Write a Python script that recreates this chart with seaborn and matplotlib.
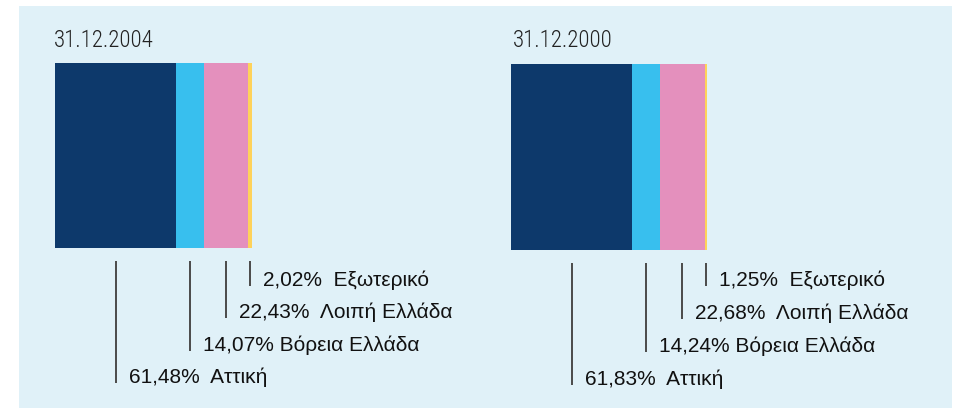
import matplotlib
matplotlib.use("Agg")
import matplotlib.pyplot as plt
import matplotlib.transforms as mtransforms
from matplotlib.patches import Rectangle
import seaborn as sns
import pandas as pd

sns.set_theme(style="white")
plt.rcParams['font.family'] = ['Liberation Sans', 'DejaVu Sans']

# ---- data ----
regions = ["Αττική", "Βόρεια Ελλάδα", "Λοιπή Ελλάδα", "Εξωτερικό"]
values_2004 = [61.48, 14.07, 22.43, 2.02]
values_2000 = [61.83, 14.24, 22.68, 1.25]
labels_2004 = ["61,48%  Αττική", "14,07% Βόρεια Ελλάδα", "22,43%  Λοιπή Ελλάδα", "2,02%  Εξωτερικό"]
labels_2000 = ["61,83%  Αττική", "14,24% Βόρεια Ελλάδα", "22,68%  Λοιπή Ελλάδα", "1,25%  Εξωτερικό"]
titles = ["31.12.2004", "31.12.2000"]
colors = ["#0d396b", "#38bfee", "#e490bd", "#fed25a"]

W, H = 960, 408
fig = plt.figure(figsize=(W / 100, H / 100), dpi=100, facecolor="white")
fig.patches.append(Rectangle((19 / W, 0), (952 - 19) / W, (408 - 6) / H,
                             transform=fig.transFigure, facecolor="#e0f1f8",
                             edgecolor="none", zorder=-10))

panels = [
    dict(values=values_2004, labels=labels_2004, title=titles[0],
         x0=55, x1=252, top=63, bottom=248, line_top=261,
         baselines=[383, 351, 318, 286], title_x=54),
    dict(values=values_2000, labels=labels_2000, title=titles[1],
         x0=511, x1=707, top=64, bottom=250, line_top=263,
         baselines=[385, 352, 319, 286], title_x=513),
]

for p in panels:
    ax = fig.add_axes([p["x0"] / W, 1 - p["bottom"] / H,
                       (p["x1"] - p["x0"]) / W, (p["bottom"] - p["top"]) / H])
    ax.set_facecolor("none")
    df = pd.DataFrame({"region": regions, "value": p["values"]})
    df["cum"] = df["value"].cumsum()
    df["start"] = df["cum"] - df["value"]
    # stacked bar: draw cumulative totals from largest to smallest
    for i in reversed(range(len(df))):
        sns.barplot(x=[df["cum"].iloc[i]], y=["all"], orient="h", color=colors[i],
                    saturation=1, width=1.0, linewidth=0, ax=ax)
    ax.set_xlim(0, df["cum"].iloc[-1])
    ax.set_ylim(0.5, -0.5)
    ax.axis("off")

    trans = mtransforms.blended_transform_factory(ax.transData, fig.transFigure)
    for i in range(len(df)):
        xc = df["start"].iloc[i] + df["value"].iloc[i] / 2
        yb = p["baselines"][i]
        ax.plot([xc, xc], [1 - p["line_top"] / H, 1 - yb / H], transform=trans,
                color="#4a4a4a", lw=1.4, clip_on=False, solid_capstyle="butt")
        tt = trans + mtransforms.ScaledTranslation(13 / 100, 0, fig.dpi_scale_trans)
        ax.text(xc, 1 - yb / H, p["labels"][i], transform=tt, ha="left",
                va="baseline", fontsize=15, color="#111111", clip_on=False)

    fig.text(p["title_x"] / W, 1 - 47 / H, p["title"], ha="left", va="baseline",
             fontsize=16.5, color="#222222", fontweight="light",
             family=["Roboto Condensed", "DejaVu Sans"])

fig.savefig("out.png", dpi=100, facecolor="white")
